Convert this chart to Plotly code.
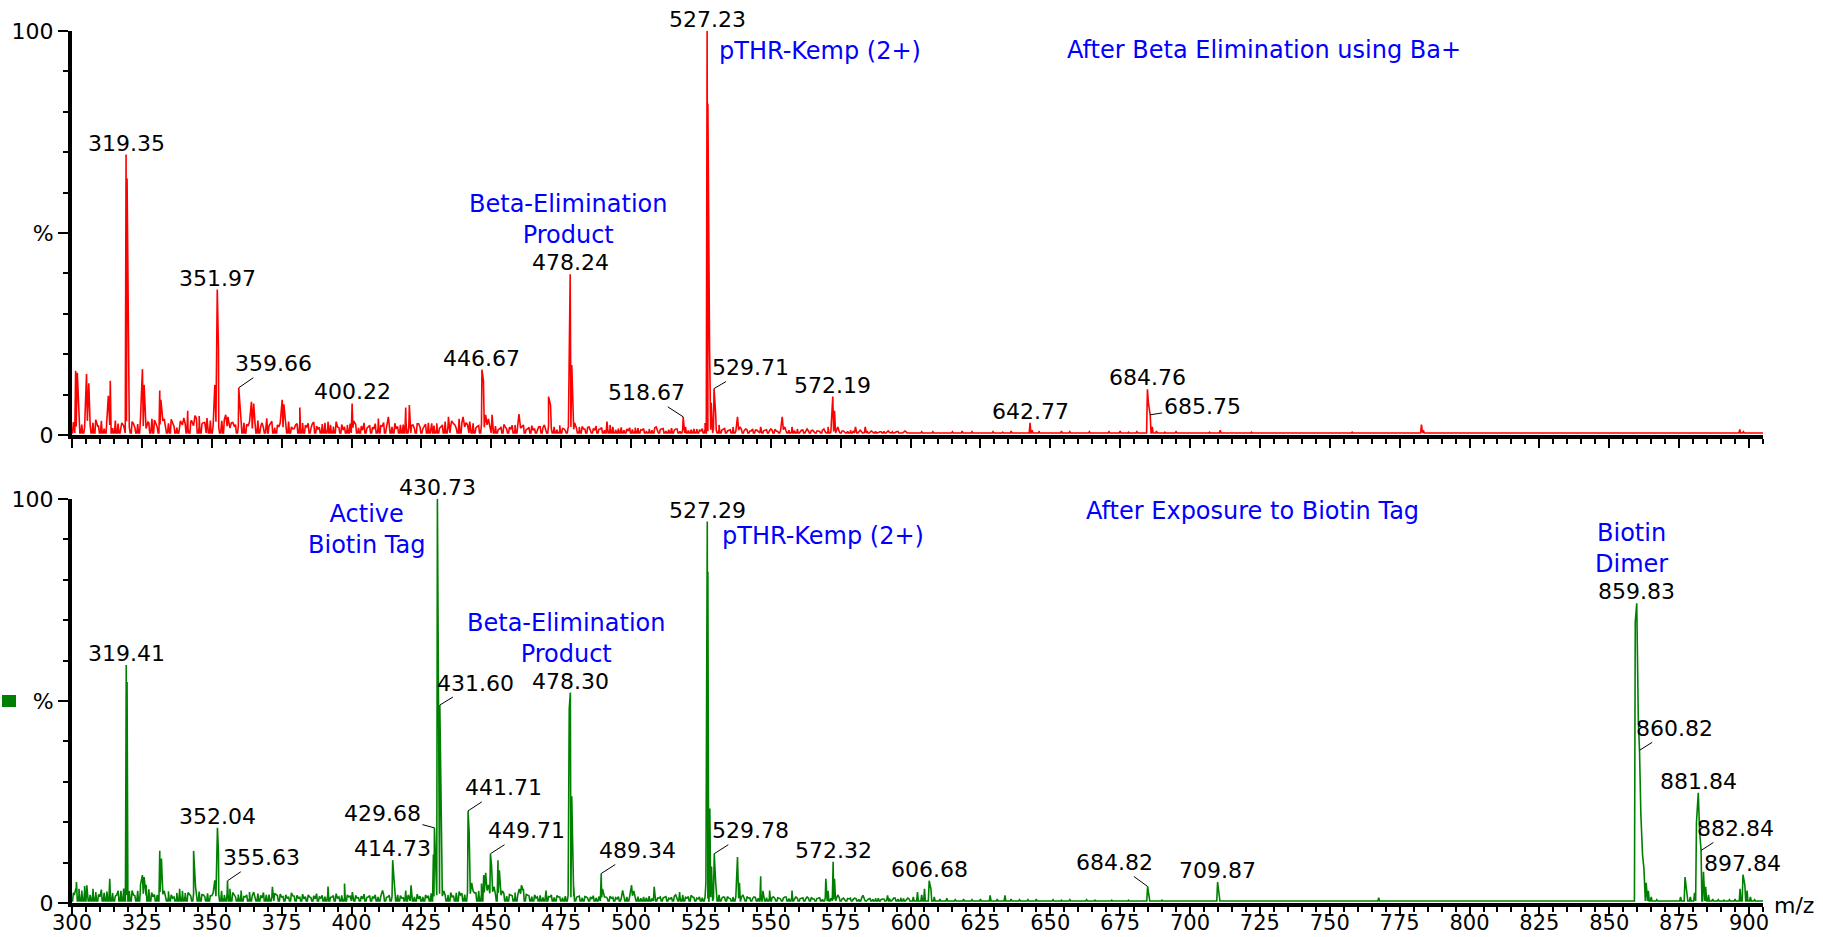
import plotly.graph_objects as go

# ---------------- data: top spectrum (After Beta Elimination using Ba+) ----------------
top_mz = [301.3, 301.9, 303.5, 305.2, 306.0, 307.5, 309.2, 310.5, 313.0, 313.7, 315.5, 317.8,
          319.35, 319.7, 320.3, 322.0, 323.5, 325.2, 325.8, 327.2, 328.6, 330.0, 331.4, 331.8,
          333.0, 334.6, 336.0, 337.5, 338.8, 340.0, 341.4, 342.8, 344.0, 345.5, 346.8, 348.3,
          349.5, 351.1, 351.97, 352.4, 353.6, 355.0, 355.8, 357.0, 358.2, 359.66, 360.1, 361.5,
          363.0, 364.2, 365.0, 366.5, 368.0, 369.7, 371.0, 372.5, 374.0, 375.2, 375.8, 377.5,
          379.0, 380.0, 381.5, 382.5, 384.0, 386.0, 388.0, 389.5, 391.6, 393.5, 395.0, 397.0,
          398.5, 400.22, 400.8, 402.5, 404.0, 406.0, 408.0, 409.6, 411.0, 413.2, 414.5, 416.0,
          417.5, 419.4, 420.7, 422.0, 424.0, 426.0, 428.7, 430.5, 432.0, 434.7, 435.8, 437.0,
          438.5, 439.9, 441.0, 442.3, 443.5, 444.8, 446.67, 447.2, 448.0, 449.0, 450.3, 451.5,
          453.0, 455.0, 457.0, 458.5, 459.9, 461.0, 463.0, 465.0, 467.0, 469.0, 470.5, 471.2,
          472.5, 474.5, 476.0, 477.6, 478.24, 478.8, 479.8, 481.5, 483.0, 485.0, 487.0, 489.0,
          491.4, 492.5, 494.5, 496.5, 499.0, 501.5, 504.0, 506.5, 509.0, 511.0, 513.5, 516.0,
          518.67, 519.5, 521.5, 523.5, 525.0, 526.5, 527.23, 527.5, 528.1, 528.7, 529.71, 530.3,
          531.5, 533.0, 535.0, 536.5, 538.1, 539.0, 541.0, 543.0, 545.0, 546.4, 548.0, 550.0,
          552.0, 554.1, 555.0, 557.6, 559.5, 561.0, 563.0, 565.0, 567.0, 569.0, 570.5, 572.19,
          572.8, 574.0, 576.0, 578.5, 580.3, 582.0, 583.8, 586.0, 589.0, 592.0, 595.0, 598.0,
          601.0, 604.0, 608.0, 612.0, 615.0, 618.5, 622.0, 626.0, 629.5, 633.0, 636.0, 639.0,
          642.77, 643.5, 646.0, 650.0, 654.0, 657.0, 660.0, 664.0, 667.0, 671.0, 675.0, 678.0,
          681.0, 684.76, 685.1, 685.75, 686.5, 688.0, 691.0, 695.0, 699.0, 703.0, 707.0, 710.8,
          714.0, 718.0, 722.0, 727.0, 731.0, 736.0, 741.0, 745.0, 750.0, 754.0, 758.0, 763.0,
          768.0, 772.0, 777.0, 782.8, 783.5, 787.0, 792.0, 797.0, 801.0, 806.0, 811.0, 816.0,
          821.0, 826.0, 831.0, 836.0, 841.0, 846.0, 851.0, 856.0, 861.0, 866.0, 871.0, 876.0,
          881.0, 886.0, 891.0, 896.7, 898.0, 902.0]
top_int = [15.9, 15.4, 2.5, 15.1, 12.8, 3.0, 2.2, 3.5, 9.7, 13.4, 2.5, 3.0,
           69.4, 63.5, 3.5, 2.8, 2.0, 16.3, 12.4, 3.2, 4.0, 2.5, 11.0, 8.7,
           4.0, 2.5, 3.0, 1.8, 3.5, 4.2, 6.0, 3.5, 4.8, 4.7, 3.0, 4.2,
           2.5, 12.4, 36.0, 21.6, 3.5, 5.0, 4.5, 3.0, 2.0, 11.7, 7.4, 3.0,
           2.2, 8.2, 7.8, 2.5, 3.0, 4.1, 2.8, 1.8, 2.0, 8.7, 7.6, 2.0,
           1.5, 2.5, 6.8, 3.0, 2.0, 2.8, 1.5, 2.2, 3.3, 1.5, 2.0, 1.2,
           2.5, 7.8, 3.5, 1.8, 1.2, 2.0, 1.5, 4.1, 2.2, 4.5, 2.0, 1.5,
           2.5, 6.8, 7.4, 2.5, 2.8, 2.0, 2.9, 1.5, 2.0, 4.5, 3.5, 2.5,
           4.0, 4.5, 3.0, 3.3, 2.5, 2.0, 16.2, 13.5, 5.0, 4.0, 5.0, 2.0,
           1.5, 2.0, 1.5, 2.5, 5.2, 2.0, 1.5, 1.2, 2.0, 2.5, 9.5, 7.4,
           2.0, 1.0, 1.5, 2.0, 39.8, 17.3, 3.0, 2.0, 1.5, 2.0, 1.2, 1.5,
           3.3, 2.5, 1.0, 1.5, 1.0, 1.8, 1.2, 1.0, 2.0, 1.5, 1.2, 1.5,
           4.5, 2.0, 1.2, 1.5, 1.0, 3.0, 100.0, 82.0, 22.0, 8.0, 11.5, 5.0,
           2.5, 1.5, 1.2, 2.0, 4.5, 2.0, 1.5, 1.0, 1.2, 2.0, 1.2, 1.5,
           1.0, 4.5, 2.0, 2.0, 1.5, 1.2, 1.5, 1.2, 1.0, 1.5, 2.0, 9.5,
           6.0, 2.0, 1.0, 1.2, 2.0, 1.2, 2.0, 1.0, 0.8, 1.0, 0.8, 1.0,
           0.6, 0.8, 0.8, 0.6, 0.8, 1.0, 0.8, 0.6, 0.8, 0.7, 1.0, 0.6,
           3.0, 1.2, 0.8, 0.6, 1.0, 0.8, 0.6, 0.8, 0.6, 0.8, 1.0, 0.7,
           0.8, 11.3, 8.0, 5.0, 2.0, 1.0, 0.7, 0.8, 0.5, 0.6, 0.7, 1.2,
           0.6, 0.5, 0.7, 0.5, 0.6, 0.5, 0.6, 0.5, 0.6, 0.5, 0.7, 0.5,
           0.6, 0.5, 0.5, 2.6, 1.2, 0.5, 0.6, 0.5, 0.6, 0.5, 0.6, 0.5,
           0.5, 0.6, 0.5, 0.5, 0.6, 0.5, 0.5, 0.6, 0.5, 0.5, 0.6, 0.5,
           0.5, 0.6, 0.5, 1.4, 0.8, 0.5]

# baseline chatter of the top trace, one reading per m/z unit from 300.5 to 599.5
top_noise = [3.2, 2.1, 4.0, 2.6, 1.8, 3.5, 2.4, 1.9, 3.8, 2.2,
             2.9, 1.6, 3.1, 2.5, 1.7, 3.6, 2.8, 1.5, 2.3, 3.4,
             2.0, 3.3, 1.8, 2.7, 4.1, 2.2, 1.6, 3.0, 2.4, 3.7,
             1.9, 2.6, 3.5, 1.7, 2.9, 3.9, 2.1, 1.8, 3.2, 2.5,
             2.8, 1.6, 3.4, 2.3, 4.2, 2.0, 2.7, 3.1, 1.9, 3.6,
             2.4, 3.3, 1.8, 2.9, 3.8, 2.2, 1.7, 3.1, 2.6, 2.0,
             3.5, 1.9, 2.7, 3.2, 1.6, 2.8, 3.6, 2.1, 1.8, 2.9,
             2.3, 3.4, 1.7, 2.5, 3.0, 1.9, 2.6, 3.3, 2.0, 1.6,
             2.8, 3.1, 1.8, 2.4, 2.9, 1.7, 3.2, 2.2, 1.9, 2.7,
             3.0, 1.6, 2.5, 2.1, 3.3, 1.8, 2.6, 2.0, 1.7, 2.8,
             1.8, 2.6, 1.5, 2.2, 3.0, 1.7, 2.4, 1.9, 2.8, 1.6,
             2.3, 3.1, 1.8, 2.5, 1.6, 2.9, 2.1, 1.7, 2.6, 3.2,
             1.9, 2.4, 1.6, 2.8, 2.0, 1.5, 2.7, 3.0, 1.8, 2.3,
             2.9, 1.7, 2.5, 3.3, 1.9, 2.2, 2.8, 1.6, 2.4, 3.1,
             2.0, 2.6, 1.8, 2.9, 1.7, 2.3, 2.7, 1.9, 2.5, 2.1,
             1.6, 2.2, 1.4, 2.0, 2.6, 1.5, 1.9, 2.4, 1.3, 2.1,
             1.7, 2.5, 1.4, 1.9, 2.3, 1.6, 1.2, 2.0, 1.8, 1.4,
             2.2, 1.5, 1.9, 1.3, 2.4, 1.6, 1.1, 1.8, 2.0, 1.4,
             1.7, 1.2, 2.1, 1.5, 1.9, 1.3, 1.6, 2.2, 1.4, 1.8,
             1.2, 1.7, 1.5, 2.0, 1.3, 1.6, 1.9, 1.2, 1.5, 1.8,
             1.4, 1.1, 1.7, 1.3, 1.6, 1.0, 1.5, 1.2, 1.8, 1.1,
             1.4, 1.6, 1.0, 1.3, 1.7, 1.2, 1.5, 0.9, 1.4, 1.6,
             1.1, 1.3, 1.5, 1.0, 1.2, 1.6, 1.4, 0.9, 1.3, 1.5,
             1.1, 1.4, 1.2, 1.6, 1.0, 1.3, 1.5, 0.9, 1.2, 1.4,
             1.1, 1.3, 1.0, 1.5, 1.2, 0.9, 1.4, 1.1, 1.3, 1.0,
             1.2, 1.4, 0.9, 1.1, 1.3, 1.0, 1.2, 0.8, 1.1, 1.0,
             0.9, 1.2, 0.8, 1.0, 1.1, 0.7, 1.0, 0.9, 1.2, 0.8,
             1.0, 0.7, 0.9, 1.1, 0.8, 1.0, 0.6, 0.9, 0.8, 1.0,
             0.7, 0.9, 0.8, 0.6, 1.0, 0.8, 0.7, 0.9, 0.6, 0.8,
             0.9, 0.7, 0.6, 0.8, 0.7, 0.9, 0.6, 0.8, 0.7, 0.6]

# ---------------- data: bottom spectrum (After Exposure to Biotin Tag) ----------------
bot_mz = [300.8, 301.6, 302.5, 303.5, 304.5, 305.3, 306.5, 307.5, 308.5, 310.0, 311.5, 313.5,
          314.5, 316.0, 317.5, 319.41, 319.7, 320.5, 322.0, 323.5, 324.5, 325.2, 325.8, 326.5,
          327.5, 329.0, 330.5, 331.4, 332.0, 333.0, 334.5, 336.0, 337.5, 338.5, 339.5, 340.5,
          342.0, 343.5, 344.2, 345.5, 347.0, 348.5, 350.0, 351.1, 352.04, 352.4, 353.5, 354.5,
          355.63, 356.5, 358.0, 359.5, 360.5, 362.0, 363.5, 365.0, 366.5, 368.0, 369.5, 371.7,
          373.0, 375.0, 377.0, 379.0, 381.0, 383.0, 385.0, 387.0, 389.0, 391.6, 393.0, 395.0,
          397.5, 399.0, 400.3, 402.0, 404.0, 406.0, 408.0, 409.5, 411.1, 413.0, 414.73, 415.3,
          416.5, 418.0, 419.4, 420.3, 421.3, 422.5, 424.0, 425.5, 427.0, 428.5, 429.3, 429.68,
          430.1, 430.73, 431.0, 431.3, 431.6, 432.2, 433.0, 434.5, 436.0, 437.5, 439.0, 440.5,
          441.71, 442.1, 443.0, 444.0, 445.5, 446.5, 447.3, 448.0, 449.0, 449.71, 450.1, 451.0,
          452.4, 452.9, 454.0, 455.5, 457.0, 458.5, 460.0, 460.8, 461.5, 463.0, 464.5, 466.0,
          467.5, 469.6, 471.0, 472.5, 474.0, 475.5, 477.9, 478.30, 478.8, 479.5, 481.0, 482.5,
          484.0, 486.0, 487.5, 489.34, 489.8, 491.0, 493.0, 495.0, 497.0, 498.5, 500.2, 501.0,
          502.5, 504.5, 506.5, 508.3, 510.0, 512.0, 514.0, 516.0, 517.4, 518.5, 520.0, 522.0,
          524.0, 525.5, 526.8, 527.29, 527.5, 528.2, 528.8, 529.78, 530.3, 531.5, 533.0, 535.0,
          536.5, 538.1, 538.8, 540.0, 542.0, 544.0, 546.4, 547.2, 549.6, 551.0, 553.0, 555.0,
          557.6, 559.0, 561.0, 563.0, 565.0, 567.0, 569.7, 570.5, 572.32, 572.8, 574.0, 576.0,
          578.0, 580.0, 583.0, 585.0, 587.5, 590.0, 591.8, 594.0, 596.5, 599.0, 601.0, 602.5,
          604.0, 605.0, 606.68, 607.3, 608.5, 610.5, 613.0, 616.0, 619.0, 622.0, 625.0, 628.5,
          631.0, 633.8, 636.0, 639.0, 642.0, 645.0, 648.0, 651.0, 654.0, 657.0, 660.0, 663.0,
          666.0, 669.0, 672.0, 675.0, 678.0, 681.0, 684.82, 685.3, 687.0, 690.0, 693.0, 696.0,
          700.0, 704.0, 707.0, 709.87, 710.4, 712.0, 716.0, 720.0, 725.0, 730.0, 735.0, 740.0,
          745.0, 750.0, 755.0, 760.0, 764.0, 767.5, 771.0, 776.0, 781.0, 786.0, 791.0, 796.0,
          801.0, 806.0, 811.0, 816.0, 821.0, 826.0, 831.0, 836.0, 841.0, 846.0, 851.0, 855.0,
          859.3, 859.83, 860.4, 860.82, 861.3, 861.9, 862.4, 863.2, 864.0, 865.0, 867.0, 870.0,
          873.0, 875.5, 877.1, 877.8, 879.0, 880.5, 881.2, 881.84, 882.3, 882.84, 883.7, 884.5,
          885.5, 887.0, 889.0, 891.0, 893.0, 895.0, 896.8, 897.84, 898.5, 899.3, 900.5, 902.0,
          904.0]
bot_int = [2.0, 5.2, 3.5, 2.5, 3.0, 4.4, 2.0, 3.0, 2.0, 1.5, 2.5, 6.0,
           2.5, 2.0, 3.0, 58.9, 54.7, 3.0, 2.0, 3.0, 4.5, 6.9, 6.4, 4.5,
           3.0, 1.5, 2.0, 12.9, 11.0, 3.0, 1.5, 1.2, 1.5, 3.5, 3.0, 2.5,
           2.0, 12.9, 4.0, 2.5, 2.0, 1.5, 1.8, 5.6, 18.6, 12.4, 3.0, 2.0,
           5.5, 3.5, 2.0, 1.5, 3.1, 1.5, 1.2, 2.7, 2.0, 1.2, 2.0, 4.0,
           2.0, 1.5, 1.2, 1.8, 1.2, 1.0, 1.5, 1.0, 1.2, 4.1, 1.5, 1.2,
           4.8, 1.5, 2.7, 1.2, 1.0, 1.5, 1.2, 1.5, 3.1, 1.5, 10.6, 5.0,
           2.0, 1.2, 3.1, 2.0, 4.4, 1.5, 1.0, 1.5, 1.2, 2.0, 12.0, 18.6,
           10.0, 100.0, 65.7, 52.0, 49.0, 9.3, 3.0, 2.0, 1.5, 2.5, 2.0, 1.5,
           22.8, 17.3, 5.0, 2.5, 3.0, 4.8, 6.9, 7.5, 4.5, 12.2, 9.3, 4.0,
           10.6, 8.1, 3.0, 1.5, 2.0, 1.5, 3.5, 4.4, 3.5, 2.0, 1.5, 1.2,
           1.5, 3.1, 1.5, 1.2, 1.5, 1.2, 48.1, 52.1, 26.4, 4.0, 1.5, 1.2,
           1.5, 1.0, 1.2, 7.3, 3.5, 1.5, 1.2, 1.0, 3.1, 1.5, 4.4, 3.0,
           1.2, 1.5, 1.2, 4.0, 1.2, 1.5, 1.0, 2.0, 2.7, 2.0, 1.2, 1.5,
           1.0, 1.2, 5.0, 94.4, 82.0, 23.4, 9.0, 12.2, 5.0, 2.0, 1.5, 1.2,
           1.5, 11.4, 5.0, 2.0, 1.2, 1.5, 6.6, 3.0, 3.1, 1.5, 1.2, 1.5,
           3.1, 1.5, 1.2, 1.5, 1.0, 1.2, 6.0, 3.0, 10.2, 6.0, 2.0, 1.2,
           1.0, 1.2, 1.9, 1.0, 1.2, 1.0, 1.9, 1.2, 1.0, 1.2, 1.5, 2.7,
           2.0, 3.5, 5.5, 3.5, 1.5, 1.0, 1.2, 0.8, 1.0, 0.8, 1.0, 1.9,
           1.0, 1.9, 1.0, 0.8, 0.8, 1.0, 0.6, 0.8, 0.7, 0.8, 0.6, 0.8,
           0.7, 0.6, 0.7, 0.6, 0.7, 0.6, 4.1, 1.5, 0.6, 0.7, 0.5, 0.6,
           0.5, 0.6, 0.5, 5.2, 2.0, 0.6, 0.5, 0.6, 0.5, 0.6, 0.5, 0.5,
           0.6, 0.5, 0.5, 0.6, 0.5, 1.3, 0.5, 0.5, 0.6, 0.5, 0.5, 0.6,
           0.5, 0.5, 0.6, 0.5, 0.5, 0.5, 0.6, 0.5, 0.5, 0.5, 0.6, 0.5,
           69.6, 74.2, 45.0, 37.8, 21.9, 12.0, 8.5, 5.0, 3.0, 1.5, 0.8, 0.6,
           0.6, 1.5, 6.4, 3.0, 1.5, 2.5, 20.0, 27.3, 18.0, 13.0, 7.7, 4.0,
           2.0, 1.0, 0.8, 0.7, 0.8, 1.0, 3.5, 7.0, 4.5, 3.1, 1.5, 0.8,
           0.5]

# baseline chatter of the bottom trace, one reading per m/z unit from 300.5 to 599.5
bot_noise = [2.6, 3.8, 2.0, 3.1, 4.2, 2.4, 1.8, 3.5, 2.7, 2.1,
             3.3, 1.9, 2.8, 3.9, 2.2, 1.7, 3.0, 2.5, 3.6, 2.0,
             2.4, 3.1, 1.8, 2.9, 3.7, 2.3, 1.9, 3.4, 2.6, 2.1,
             1.8, 2.7, 2.2, 1.6, 2.9, 2.0, 1.5, 2.5, 3.1, 2.2,
             1.9, 2.6, 1.7, 2.3, 1.5, 2.8, 2.1, 1.6, 2.4, 1.8,
             2.5, 1.7, 2.2, 2.9, 1.6, 2.3, 1.9, 2.6, 1.5, 2.1,
             2.4, 1.6, 2.0, 2.7, 1.8, 1.5, 2.3, 1.9, 2.6, 1.7,
             2.1, 1.5, 2.4, 1.8, 2.2, 1.6, 2.0, 1.4, 2.5, 1.7,
             1.9, 1.4, 2.2, 1.6, 2.0, 1.3, 1.8, 2.3, 1.5, 1.9,
             1.6, 2.1, 1.4, 1.8, 2.3, 1.5, 1.9, 1.3, 2.0, 1.7,
             1.5, 1.9, 1.3, 1.7, 2.2, 1.4, 1.8, 1.6, 2.0, 1.3,
             1.7, 2.1, 1.4, 1.9, 1.5, 2.3, 1.6, 1.8, 1.3, 2.0,
             1.6, 1.9, 1.4, 2.2, 1.7, 1.5, 2.0, 1.8, 2.4, 1.6,
             1.9, 2.3, 1.7, 2.0, 1.5, 2.6, 1.8, 2.2, 2.8, 2.4,
             2.1, 2.7, 2.3, 3.0, 2.5, 2.9, 2.2, 2.6, 3.1, 2.4,
             2.8, 2.2, 2.5, 1.9, 2.4, 1.7, 2.1, 1.8, 2.6, 2.0,
             2.3, 2.9, 2.1, 1.8, 1.6, 2.0, 1.5, 1.9, 1.4, 1.7,
             1.6, 2.0, 1.4, 1.8, 1.5, 1.3, 1.7, 1.9, 1.4, 1.6,
             1.4, 1.7, 1.3, 1.6, 1.2, 1.5, 1.8, 1.3, 1.6, 1.4,
             1.5, 1.2, 1.7, 1.4, 1.3, 1.6, 1.1, 1.5, 1.3, 1.6,
             1.8, 1.4, 1.6, 1.2, 1.5, 1.3, 1.7, 1.1, 1.4, 1.2,
             1.5, 1.3, 1.6, 1.2, 1.4, 1.7, 1.3, 1.5, 1.8, 1.4,
             1.6, 1.9, 1.4, 1.2, 1.5, 1.3, 1.6, 1.1, 1.4, 1.2,
             1.3, 1.5, 1.2, 1.4, 1.6, 1.1, 1.3, 1.5, 1.2, 1.4,
             1.2, 1.6, 1.3, 1.1, 1.4, 1.2, 1.5, 1.0, 1.3, 1.2,
             1.4, 1.1, 1.3, 1.0, 1.2, 1.5, 1.1, 1.3, 1.0, 1.2,
             1.1, 1.3, 1.0, 1.2, 1.4, 1.0, 1.1, 1.3, 0.9, 1.2,
             1.0, 1.2, 0.9, 1.1, 1.3, 1.0, 0.8, 1.1, 1.2, 0.9,
             1.1, 0.9, 1.2, 1.0, 0.8, 1.1, 0.9, 1.0, 1.2, 0.9,
             1.0, 0.8, 1.1, 0.9, 1.2, 1.0, 1.3, 1.1, 0.9, 1.0]
noise_start = 300.5   # m/z of the first chatter reading (1 m/z apart)

# peak labels (text is the m/z value)
top_labels = ["527.23", "319.35", "351.97", "359.66", "400.22", "446.67", "478.24",
              "518.67", "529.71", "572.19", "642.77", "684.76", "685.75"]
bot_labels = ["430.73", "527.29", "859.83", "319.41", "478.30", "431.60", "860.82",
              "881.84", "441.71", "429.68", "352.04", "529.78", "882.84", "449.71",
              "572.32", "489.34", "355.63", "414.73", "606.68", "684.82", "709.87", "897.84"]

x_ticks = list(range(300, 901, 25))
y_tick_vals = [0, 50, 100]
y_tick_text = ["0", "%", "100"]

# ---------------- styling / layout constants ----------------
W, H = 1823, 937
ML, MR, MT, MB = 72, 60, 31, 34
FONT = "DejaVu Sans"
RED = "#ff0000"
GREEN = "#008000"
BLUE = "#0000ff"
NUM_SIZE = 22
XTICK_SIZE = 21
BLUE_SIZE = 24

# leader-line offsets (pixels) for labels that sit beside their peak
leaders_top = {"359.66": (35, -24), "518.67": (-37, -24), "529.71": (36, -21), "685.75": (52, -8)}
leaders_bot = {"431.60": (36, -22), "860.82": (35, -22), "441.71": (35, -23), "429.68": (-52, -14),
               "529.78": (36, -23), "882.84": (34, -22), "449.71": (36, -23), "489.34": (36, -23),
               "355.63": (34, -23), "684.82": (-33, -24)}


def profile(mz, inten, noise, base=0.5, hw=0.3):
    pts = list(zip(mz, inten)) + [(noise_start + i, v) for i, v in enumerate(noise)]
    pts.sort()
    xs, ys = [300.0], [base]
    n = len(pts)
    for i, (m, h) in enumerate(pts):
        if i == 0 or m - pts[i - 1][0] > 2 * hw + 0.1:
            xs.append(m - hw); ys.append(base)
        xs.append(m); ys.append(h)
        if i == n - 1 or pts[i + 1][0] - m > 2 * hw + 0.1:
            xs.append(m + hw); ys.append(base)
    xs.append(905.0); ys.append(base)
    return xs, ys


tx, ty = profile(top_mz, top_int, top_noise)
bx, by = profile(bot_mz, bot_int, bot_noise)

fig = go.Figure()
fig.add_trace(go.Scatter(x=tx, y=ty, mode="lines", line=dict(color=RED, width=1.6),
                         xaxis="x", yaxis="y", hoverinfo="skip", showlegend=False))
fig.add_trace(go.Scatter(x=bx, y=by, mode="lines", line=dict(color=GREEN, width=1.6),
                         xaxis="x2", yaxis="y2", hoverinfo="skip", showlegend=False))

plot_h = H - MT - MB
pw = W - ML - MR
top_dom = [1 - (435 - MT) / plot_h, 1.0]
bot_dom = [0.0, (H - MB - 499) / plot_h]

xcommon = dict(range=[300, 905], showgrid=False, zeroline=False, showline=True,
               linecolor="black", linewidth=4, ticks="outside", ticklen=9, tickwidth=2,
               tickcolor="black", tickmode="array", tickvals=x_ticks, automargin=False,
               minor=dict(dtick=5, tick0=300, ticks="outside", ticklen=5, tickwidth=1.5,
                          tickcolor="black", showgrid=False),
               tickfont=dict(family=FONT, size=XTICK_SIZE, color="black"), fixedrange=True)
ycommon = dict(range=[0, 100], showgrid=False, zeroline=False, showline=True,
               linecolor="black", linewidth=4, ticks="outside", ticklen=10, tickwidth=2,
               tickcolor="black", tickmode="array", tickvals=y_tick_vals, ticktext=y_tick_text,
               automargin=False,
               minor=dict(dtick=10, tick0=0, ticks="outside", ticklen=5, tickwidth=1.5,
                          tickcolor="black", showgrid=False),
               tickfont=dict(family=FONT, size=NUM_SIZE, color="black"), fixedrange=True)

fig.update_layout(
    width=W, height=H, margin=dict(l=ML, r=MR, t=MT, b=MB, autoexpand=False),
    paper_bgcolor="white", plot_bgcolor="white",
    font=dict(family=FONT, size=NUM_SIZE, color="black"),
    xaxis=dict(xcommon, anchor="y", showticklabels=False),
    yaxis=dict(ycommon, domain=top_dom, anchor="x"),
    xaxis2=dict(xcommon, anchor="y2", showticklabels=True, ticklabelstandoff=-11),
    yaxis2=dict(ycommon, domain=bot_dom, anchor="x2"),
    showlegend=False,
)

ann = []


def lookup(mz, ints, val):
    best = min(range(len(mz)), key=lambda i: abs(mz[i] - val))
    return ints[best]


NUM_SHIFT = -3      # numbers sit just above their peak tips
NUM_TEXT_H = 26     # approx. height of a number label's text in px


def add_labels(labels, mz, ints, leaders, xr, yr):
    for lab in labels:
        v = float(lab)
        h = lookup(mz, ints, v)
        if lab in leaders:
            ax, ay = leaders[lab]
            ann.append(dict(x=v, y=h, xref=xr, yref=yr, text=lab, showarrow=True,
                            arrowhead=0, arrowwidth=1, arrowcolor="black", ax=ax, ay=ay,
                            standoff=0, startstandoff=0,
                            font=dict(family=FONT, size=NUM_SIZE, color="black")))
        else:
            ann.append(dict(x=v, y=h, xref=xr, yref=yr, text=lab, showarrow=False,
                            xanchor="center", yanchor="bottom", yshift=NUM_SHIFT,
                            font=dict(family=FONT, size=NUM_SIZE, color="black")))


add_labels(top_labels, top_mz, top_int, leaders_top, "x", "y")
add_labels(bot_labels, bot_mz, bot_int, leaders_bot, "x2", "y2")

# blue labels stacked directly above a numbered peak: (text, m/z centre, peak label, panel)
blue_stacked = [
    ("Beta-Elimination<br>Product", 477.4, "478.24", 1),
    ("Beta-Elimination<br>Product", 476.9, "478.30", 2),
    ("Biotin<br>Dimer", 858.1, "859.83", 2),
]
for t, xv, lab, p in blue_stacked:
    mz, ints = (top_mz, top_int) if p == 1 else (bot_mz, bot_int)
    h = lookup(mz, ints, float(lab))
    ann.append(dict(x=xv, y=h, xref="x" if p == 1 else "x2", yref="y" if p == 1 else "y2",
                    text=t, showarrow=False, xanchor="center", yanchor="bottom",
                    yshift=NUM_SHIFT + NUM_TEXT_H, align="center",
                    font=dict(family=FONT, size=BLUE_SIZE, color=BLUE)))

# free-standing blue labels: (text, m/z position, % position, anchor, panel)
blue_free = [
    ("pTHR-Kemp (2+)", 530.8, 95.0, "left", 1),
    ("After Beta Elimination using Ba+", 655.3, 95.2, "left", 1),
    ("Active<br>Biotin Tag", 405.3, 92.4, "center", 2),
    ("pTHR-Kemp (2+)", 531.8, 90.8, "left", 2),
    ("After Exposure to Biotin Tag", 661.9, 97.1, "left", 2),
]
for t, xv, yv, anc, p in blue_free:
    ann.append(dict(x=xv, y=yv, xref="x" if p == 1 else "x2", yref="y" if p == 1 else "y2",
                    text=t, showarrow=False, xanchor=anc, yanchor="middle", align="center",
                    font=dict(family=FONT, size=BLUE_SIZE, color=BLUE)))

# axis unit label
ann.append(dict(x=(1772 - ML) / pw, y=((H - MB) - 906) / plot_h, xref="paper", yref="paper",
                text="m/z", showarrow=False, xanchor="left", yanchor="middle",
                font=dict(family=FONT, size=NUM_SIZE, color="black")))

fig.update_layout(annotations=ann)

# small green legend square next to the lower "%" label
fig.add_shape(type="rect", xref="paper", yref="paper",
              x0=(2 - ML) / pw, x1=(16 - ML) / pw,
              y0=((H - MB) - 707) / plot_h, y1=((H - MB) - 695) / plot_h,
              fillcolor=GREEN, line=dict(width=0))

fig.write_html("out.html", config={"displayModeBar": False},
               post_script="document.body.style.margin='0px';")
